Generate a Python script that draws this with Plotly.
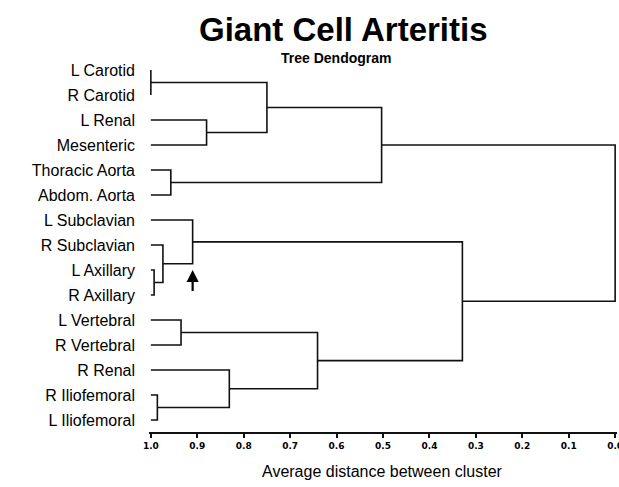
import plotly.graph_objects as go

# ---- data ----
leaf_labels = ["L Carotid", "R Carotid", "L Renal", "Mesenteric", "Thoracic Aorta",
               "Abdom. Aorta", "L Subclavian", "R Subclavian", "L Axillary", "R Axillary",
               "L Vertebral", "R Vertebral", "R Renal", "R Iliofemoral", "L Iliofemoral"]
# merges: new cluster ids start at len(leaf_labels)
merge_left = [0, 2, 15, 4, 17, 8, 7, 6, 10, 13, 12, 23, 22, 19]
merge_right = [1, 3, 16, 5, 18, 9, 20, 21, 11, 14, 24, 25, 26, 27]
merge_dist = [1.0, 0.88, 0.75, 0.957, 0.503, 0.993, 0.974, 0.910, 0.935, 0.986, 0.831, 0.641, 0.329, 0.0]
x_ticks = [1.0, 0.9, 0.8, 0.7, 0.6, 0.5, 0.4, 0.3, 0.2, 0.1, 0.0]
arrow_dist = 0.910

# ---- build dendrogram segments ----
n = len(leaf_labels)
pos_y = {i: float(i) for i in range(n)}
pos_x = {i: 1.0 for i in range(n)}
xs, ys = [], []
for k, (a, b, d) in enumerate(zip(merge_left, merge_right, merge_dist)):
    cid = n + k
    xs += [pos_x[a], d, d, pos_x[b], None]
    ys += [pos_y[a], pos_y[a], pos_y[b], pos_y[b], None]
    pos_x[cid] = d
    pos_y[cid] = (pos_y[a] + pos_y[b]) / 2

fig = go.Figure()
fig.add_trace(go.Scatter(x=xs, y=ys, mode="lines",
                         line=dict(color="#111111", width=1.6),
                         hoverinfo="skip", showlegend=False))

W, H = 619, 487
ml, mr, mt, mb = 149, 2, 55, 55
ph = H - mt - mb

def py(pix):
    return (H - mb - pix) / ph

def px(pix):
    return (pix - ml) / (W - ml - mr)

fig.add_annotation(text="Giant Cell Arteritis", xref="paper", yref="paper",
                   x=px(343), y=py(29), xanchor="center", yanchor="middle", showarrow=False,
                   font=dict(family="Liberation Sans", size=33, color="#000000", weight="bold"))
fig.add_annotation(text="Tree Dendogram", xref="paper", yref="paper",
                   x=px(336), y=py(58), xanchor="center", yanchor="middle", showarrow=False,
                   font=dict(family="Liberation Sans", size=14, color="#000000", weight="bold"))
fig.add_annotation(text="Average distance between cluster", xref="paper", yref="paper",
                   x=px(382), y=py(471), xanchor="center", yanchor="middle", showarrow=False,
                   font=dict(family="Liberation Sans", size=16, color="#000000"))
# arrow
fig.add_annotation(x=arrow_dist, y=8.0, ax=arrow_dist, ay=8.9, xref="x", yref="y",
                   axref="x", ayref="y", text="", showarrow=True,
                   arrowhead=2, arrowsize=1.1, arrowwidth=2.2, arrowcolor="#000000")

fig.update_layout(
    width=W, height=H,
    margin=dict(l=ml, r=mr, t=mt, b=mb),
    plot_bgcolor="white", paper_bgcolor="white",
    font=dict(family="Liberation Sans", color="#000000"),
    xaxis=dict(range=[1.004, -0.004], tickvals=x_ticks, tickformat=".1f",
               automargin=False, ticklabeloverflow="allow",
               showgrid=False, zeroline=False, showline=True, linecolor="#111111",
               linewidth=1.5, ticks="outside", ticklen=4, tickwidth=1.5, tickcolor="#111111",
               tickfont=dict(family="DejaVu Sans", size=9, color="#000000", weight="bold")),
    yaxis=dict(range=[14.48, -0.6], tickvals=list(range(n)), ticktext=leaf_labels,
               automargin=False,
               showgrid=False, zeroline=False, showline=False, ticks="",
               ticklabelstandoff=13,
               tickfont=dict(family="Liberation Sans", size=16, color="#000000")),
)

fig.write_html("out.html", config={"displayModeBar": False},
               post_script="document.body.style.margin='0';document.documentElement.style.overflow='hidden';")
